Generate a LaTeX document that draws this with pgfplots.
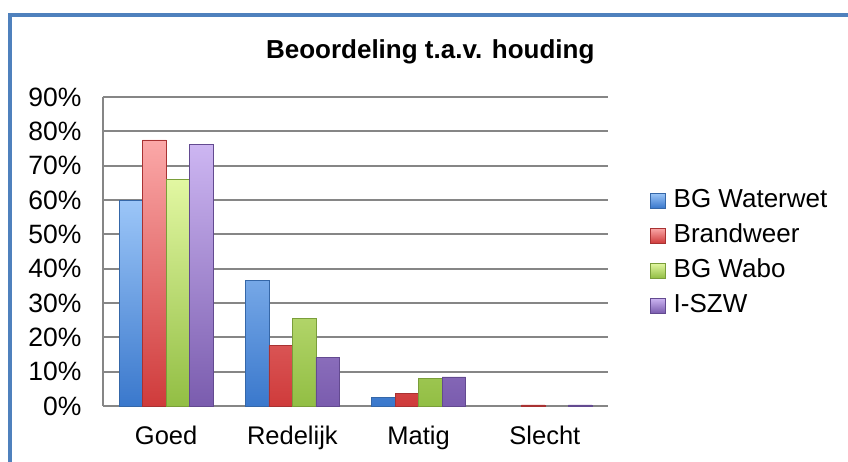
\documentclass[border=0pt]{standalone}
\usepackage{pgfplots}
\pgfplotsset{compat=1.18}
\usepackage{fontspec}
\setmainfont{Liberation Sans}
\definecolor{frameblue}{HTML}{4F81BD}
\definecolor{gridgrey}{HTML}{868686}
\definecolor{bluetop}{HTML}{9CC6F8}
\definecolor{bluebot}{HTML}{3A78CC}
\definecolor{blueedge}{HTML}{3567A8}
\definecolor{redtop}{HTML}{FBA8A8}
\definecolor{redbot}{HTML}{CF3B3B}
\definecolor{rededge}{HTML}{A83232}
\definecolor{greentop}{HTML}{E2F7A2}
\definecolor{greenbot}{HTML}{92BE44}
\definecolor{greenedge}{HTML}{7A9E3A}
\definecolor{purptop}{HTML}{CDB6F2}
\definecolor{purpbot}{HTML}{7A5CAE}
\definecolor{purpedge}{HTML}{634A90}
\begin{document}
\begin{tikzpicture}[x=1pt,y=1pt]
\useasboundingbox (-103,-56) rectangle (745,406);
\fill[white] (-103,-56) rectangle (745,406);
\draw[line width=4pt, color=frameblue] (-92.5,-60) -- (-92.5,390.5) -- (750,390.5);
\begin{axis}[
  at={(0,0)}, anchor=south west,
  scale only axis, width=505pt, height=309pt,
  ybar=0pt, bar width=23.5pt,
  xmin=-0.5, xmax=3.5, ymin=0, ymax=90,
  ytick={0,10,...,90},
  yticklabel={\pgfmathparse{int(\tick)}\pgfmathresult\%},
  xtick={0,1,2,3},
  xticklabels={Goed,Redelijk,Matig,Slecht},
  ymajorgrids,
  grid style={gridgrey, line width=2pt},
  axis x line*=bottom, axis y line*=left,
  axis line style={gridgrey, line width=2pt, -},
  major tick length=0pt,
  xticklabel style={font=\fontsize{25.5}{30}\selectfont, yshift=-16pt},
  yticklabel style={font=\fontsize{26.5}{30}\selectfont, xshift=-18pt},
  title={Beoordeling t.a.v. houding},
  title style={font=\bfseries\fontsize{26}{30}\selectfont, at={(axis description cs:0.648,1.105)}, anchor=base},
  legend style={draw=none, fill=none, at={(axis description cs:1.083,0.495)}, anchor=west,
    font=\fontsize{26}{30}\selectfont, inner sep=0pt, row sep=12pt,
    nodes={inner sep=0pt, text height=18pt, text depth=5pt},
    /tikz/every odd column/.append style={column sep=8pt}},
  legend cell align=left,
  legend image code/.code={\fill[#1] (0pt,-7.5pt) rectangle (15pt,7.5pt);},
  clip=false,
]
\addplot[draw=blueedge, line width=0.6pt, top color=bluetop, bottom color=bluebot]
  coordinates {(0,60) (1,36.5) (2,2.5)};
\addplot[draw=rededge, line width=0.6pt, top color=redtop, bottom color=redbot]
  coordinates {(0,77.5) (1,17.6) (2,3.7) (3,0.3)};
\addplot[draw=greenedge, line width=0.6pt, top color=greentop, bottom color=greenbot]
  coordinates {(0,66) (1,25.4) (2,8.1)};
\addplot[draw=purpedge, line width=0.6pt, top color=purptop, bottom color=purpbot]
  coordinates {(0,76.3) (1,14.1) (2,8.5) (3,0.3)};
\legend{BG Waterwet, Brandweer, BG Wabo, I-SZW}
\end{axis}
\end{tikzpicture}
\end{document}
